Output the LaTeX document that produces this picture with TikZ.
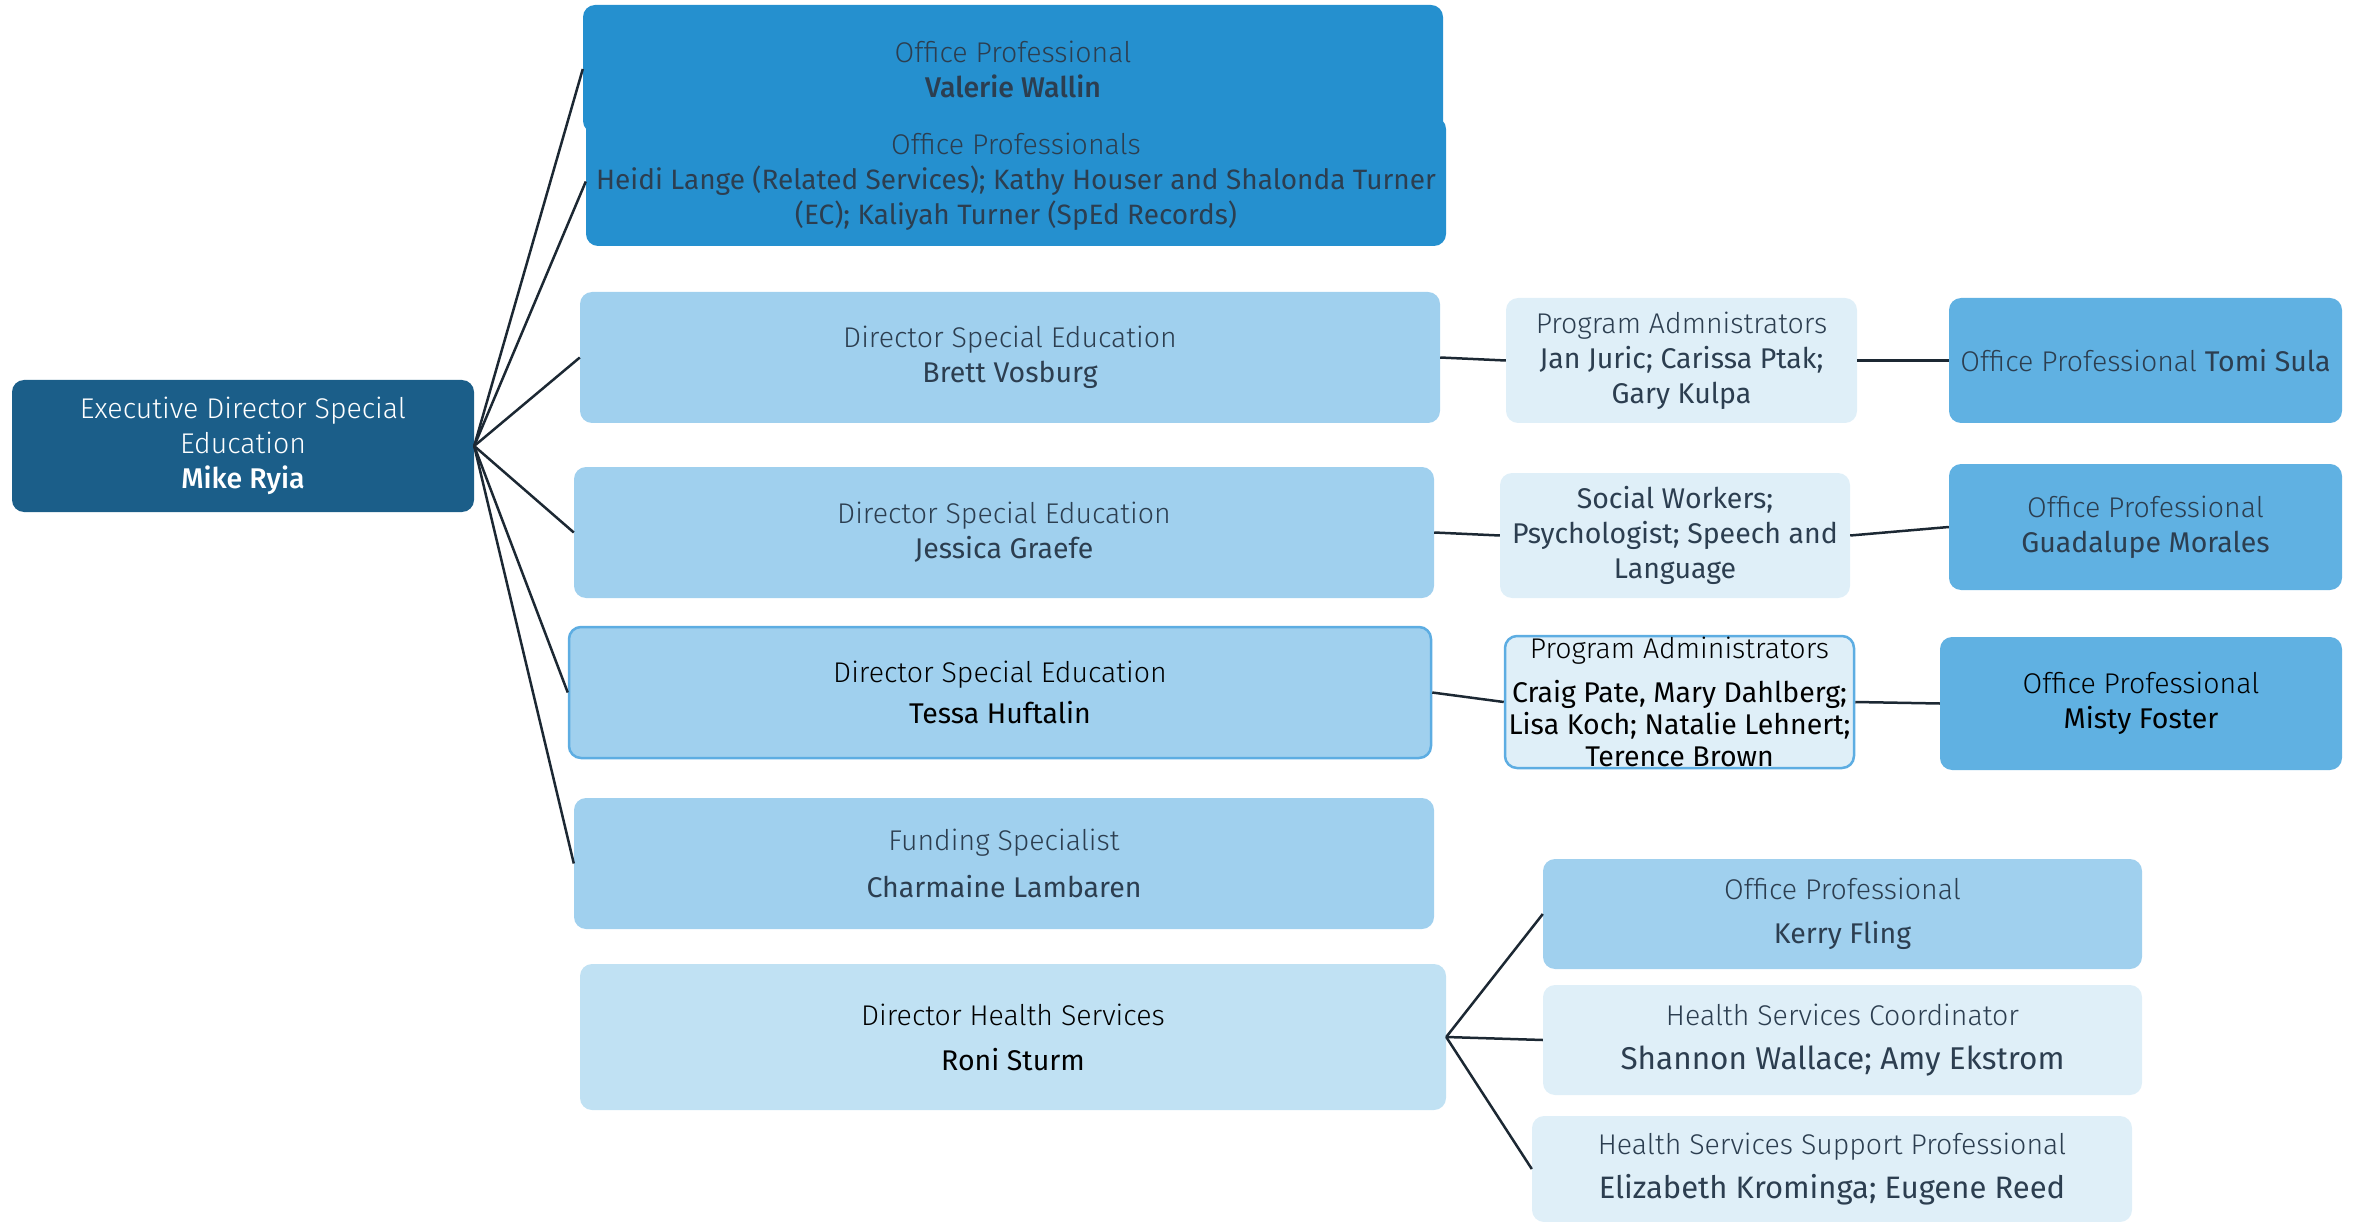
\documentclass[tikz,border=0pt]{standalone}
\usepackage{fontspec}
\setmainfont{Fira Sans Light}[BoldFont={Fira Sans Medium}]
\newfontfamily\rg{Fira Sans}
\usetikzlibrary{positioning}

\definecolor{execblue}{HTML}{1B5E89}
\definecolor{topblue}{HTML}{2590CF}
\definecolor{midblue}{HTML}{A0D0EE}
\definecolor{roniblue}{HTML}{C0E1F3}
\definecolor{paleblue}{HTML}{DFEFF8}
\definecolor{offblue}{HTML}{60B1E2}
\definecolor{edgeblue}{HTML}{5DADE2}
\definecolor{ink}{HTML}{2C3E50}
\definecolor{wire}{HTML}{1C2833}

\tikzset{
  card/.style={
    rounded corners=12pt,
    align=center,
    inner sep=0pt,
    text=ink,
    font=\fontsize{28.5}{35}\selectfont
  },
  sz/.style 2 args={minimum width=#1pt, minimum height=#2pt},
  link/.style={draw=wire, line width=2.5pt}
}

\begin{document}
\begin{tikzpicture}[x=1pt,y=-1pt]
    \useasboundingbox (0,0) rectangle (2362,1222);

    % Leitung
    \node[card, fill=execblue, text=white, sz={462}{132}] (exec) at (243,446)
        {Executive Director Special\\Education\\\textbf{Mike Ryia}};

    % Buero oben
    \node[card, fill=topblue, sz={860}{128}] (valerie) at (1013,69)
        {Office Professional\\\textbf{Valerie Wallin}};
    \node[card, fill=topblue, sz={860}{129}] (heidi) at (1016,181.5)
        {Office Professionals\\{\rg\fontsize{28}{35}\selectfont Heidi Lange (Related Services); Kathy Houser and Shalonda Turner}\\{\rg\fontsize{28}{35}\selectfont (EC); Kaliyah Turner (SpEd Records)}};

    % Direktoren
    \node[card, fill=midblue, sz={860}{131}] (brett) at (1010,357.5)
        {Director Special Education\\{\rg Brett Vosburg}};
    \node[card, fill=midblue, sz={860}{131}] (jessica) at (1004,532.5)
        {Director Special Education\\{\rg Jessica Graefe}};
    \node[card, fill=midblue, draw=edgeblue, line width=2.5pt, text=black, sz={862}{131}] (tessa) at (1000,692.5)
        {Director Special Education\\[6pt]{\rg Tessa Huftalin}};
    \node[card, fill=midblue, sz={860}{131}] (funding) at (1004,863.5)
        {Funding Specialist\\[12pt]{\rg Charmaine Lambaren}};
    \node[card, fill=roniblue, text=black, sz={866}{146}] (roni) at (1013,1037)
        {Director Health Services\\[10pt]{\rg Roni Sturm}};

    % Mittlere Spalte
    \node[card, fill=paleblue, sz={351}{125}] (pa1) at (1681.5,360.5)
        {Program Admnistrators\\{\rg Jan Juric; Carissa Ptak;}\\{\rg Gary Kulpa}};
    \node[card, fill=paleblue, sz={350}{125}] (social) at (1675,535.5)
        {\rg Social Workers;\\\rg Psychologist; Speech and\\\rg Language};
    \node[card, fill=paleblue, draw=edgeblue, line width=2.5pt, text=black, sz={349}{132}] (pa2) at (1679.5,702)
        {Program Administrators\\[9pt]{\rg Craig Pate, Mary Dahlberg;}\\[-3pt]{\rg Lisa Koch; Natalie Lehnert;}\\[-3pt]{\rg Terence Brown}};

    % Rechte Spalte
    \node[card, fill=offblue, sz={393}{125}] (tomi) at (2145.5,360.5)
        {Office Professional {\rg Tomi Sula}};
    \node[card, fill=offblue, sz={393}{126}] (guadalupe) at (2145.5,527)
        {Office Professional\\{\rg Guadalupe Morales}};
    \node[card, fill=offblue, text=black, sz={402}{133}] (misty) at (2141,703.5)
        {Office Professional\\{\rg Misty Foster}};

    % Gesundheitsdienste
    \node[card, fill=midblue, sz={599}{110}] (kerry) at (1842.5,914)
        {Office Professional\\[9pt]{\rg Kerry Fling}};
    \node[card, fill=paleblue, sz={599}{110}] (shannon) at (1842.5,1040)
        {Health Services Coordinator\\[9pt]{\rg\fontsize{31.5}{35}\selectfont Shannon Wallace; Amy Ekstrom}};
    \node[card, fill=paleblue, sz={600}{106}] (eliz) at (1832,1169)
        {Health Services Support Professional\\[9pt]{\rg\fontsize{31}{35}\selectfont Elizabeth Krominga; Eugene Reed}};

    % Verbindungen
    \foreach \kid in {valerie,heidi,brett,jessica,tessa,funding}
        \draw[link] (exec.east) -- (\kid.west);
    \draw[link] (brett.east) -- (pa1.west);
    \draw[link] (pa1.east) -- (tomi.west);
    \draw[link] (jessica.east) -- (social.west);
    \draw[link] (social.east) -- (guadalupe.west);
    \draw[link] (tessa.east) -- (pa2.west);
    \draw[link] (pa2.east) -- (misty.west);
    \foreach \kid in {kerry,shannon,eliz}
        \draw[link] (roni.east) -- (\kid.west);
\end{tikzpicture}
\end{document}
